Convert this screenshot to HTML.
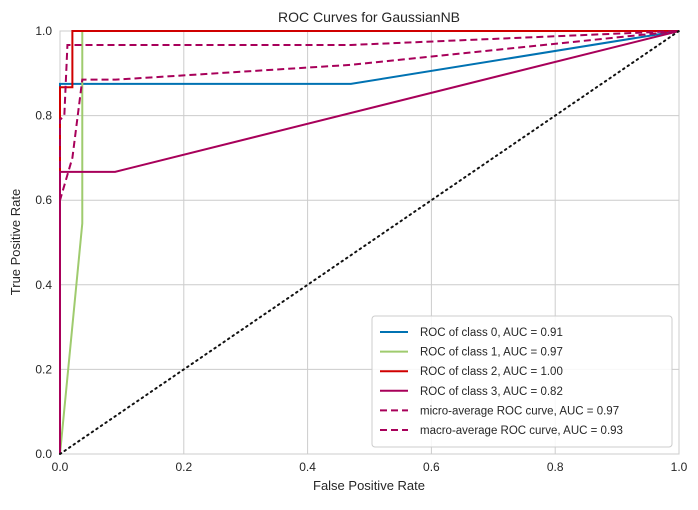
<!DOCTYPE html>
<html><head><meta charset="utf-8"><style>
body{margin:0;background:#fff;font-family:"Liberation Sans",sans-serif}
svg text{font-family:"Liberation Sans",sans-serif;fill:#262626}
</style></head><body>
<svg id="chart" width="698" height="505" xmlns="http://www.w3.org/2000/svg">
<rect x="60" y="31" width="619" height="423" fill="#fff" stroke="#ccc"/>
<g id="grid"></g>
<g id="series"></g>
<text x="369" y="22" text-anchor="middle" font-size="14">ROC Curves for GaussianNB</text>
<text x="369" y="490" text-anchor="middle" font-size="13">False Positive Rate</text>
<text x="20" y="242" text-anchor="middle" font-size="13" transform="rotate(-90 20 242)">True Positive Rate</text>
<g id="legend"></g>
</svg>
<script>
const ticks=[0,0.2,0.4,0.6,0.8,1.0];
const tickLabels=["0.0","0.2","0.4","0.6","0.8","1.0"];
const seriesNames=["ROC of class 0, AUC = 0.91","ROC of class 1, AUC = 0.97","ROC of class 2, AUC = 1.00","ROC of class 3, AUC = 0.82","micro-average ROC curve, AUC = 0.97","macro-average ROC curve, AUC = 0.93"];
const colors=["#0072b2","#9fcb6e","#d00000","#a8005a","#a8005a","#a8005a"];
const dashed=[false,false,false,false,true,true];
const fpr0=[0,0,0.47,1], tpr0=[0,0.875,0.875,1];
const fpr1=[0,0.036,0.036,1], tpr1=[0,0.545,1,1];
const fpr2=[0,0,0.02,0.02,1], tpr2=[0,0.867,0.867,1,1];
const fpr3=[0,0,0.089,1], tpr3=[0,0.667,0.667,1];
const fprMicro=[0,0,0.007,0.012,0.47,1], tprMicro=[0,0.79,0.8,0.967,0.967,1];
const fprMacro=[0,0,0.02,0.036,0.09,0.47,1], tprMacro=[0,0.6,0.7,0.885,0.885,0.92,1];
const fprs=[fpr0,fpr1,fpr2,fpr3,fprMicro,fprMacro], tprs=[tpr0,tpr1,tpr2,tpr3,tprMicro,tprMacro];
const NS="http://www.w3.org/2000/svg";
const X=v=>60+v*619, Y=v=>454-v*423;
function mk(t,a,p){const e=document.createElementNS(NS,t);for(const k in a)e.setAttribute(k,a[k]);p.appendChild(e);return e;}
const grid=document.getElementById('grid');
ticks.forEach((t,i)=>{
 let l=mk('line',{x1:X(t),x2:X(t),y1:31,y2:454,stroke:'#cccccc','stroke-width':1},grid);
 
 
 let h=mk('line',{x1:60,x2:679,y1:Y(t),y2:Y(t),stroke:'#cccccc','stroke-width':1},grid);
 
 
 let tx=mk('text',{x:X(t),y:471,'text-anchor':'middle','font-size':12},grid);tx.textContent=tickLabels[i];
 
 
 let ty=mk('text',{x:52,y:Y(t)+4,'text-anchor':'end','font-size':12},grid);ty.textContent=tickLabels[i];
 
 
});
const sg=document.getElementById('series');
fprs.forEach((f,i)=>{
 const pts=f.map((v,j)=>X(v)+','+Y(tprs[i][j])).join(' ');
 let p=mk('polyline',{points:pts,fill:'none',stroke:colors[i],'stroke-width':2},sg);
 if(dashed[i])p.setAttribute('stroke-dasharray','7,4');
 
 
});
let d=mk('line',{x1:X(0),y1:Y(0),x2:X(1),y2:Y(1),stroke:'#111','stroke-width':2,'stroke-dasharray':'1.5,4','stroke-linecap':'round'},sg);


const lg=document.getElementById('legend');
let box=mk('rect',{x:372,y:316,width:300,height:131,rx:3,fill:'#fff','fill-opacity':0.85,stroke:'#ccc'},lg);


seriesNames.forEach((n,i)=>{
 const y=336+i*19.6;
 let ln=mk('line',{x1:380,x2:408,y1:y-4,y2:y-4,stroke:colors[i],'stroke-width':2},lg);
 if(dashed[i])ln.setAttribute('stroke-dasharray','7,4');
 
 
 let t=mk('text',{x:420,y:y,'font-size':11.5},lg);t.textContent=n;
 
 
});
</script>
</body></html>
